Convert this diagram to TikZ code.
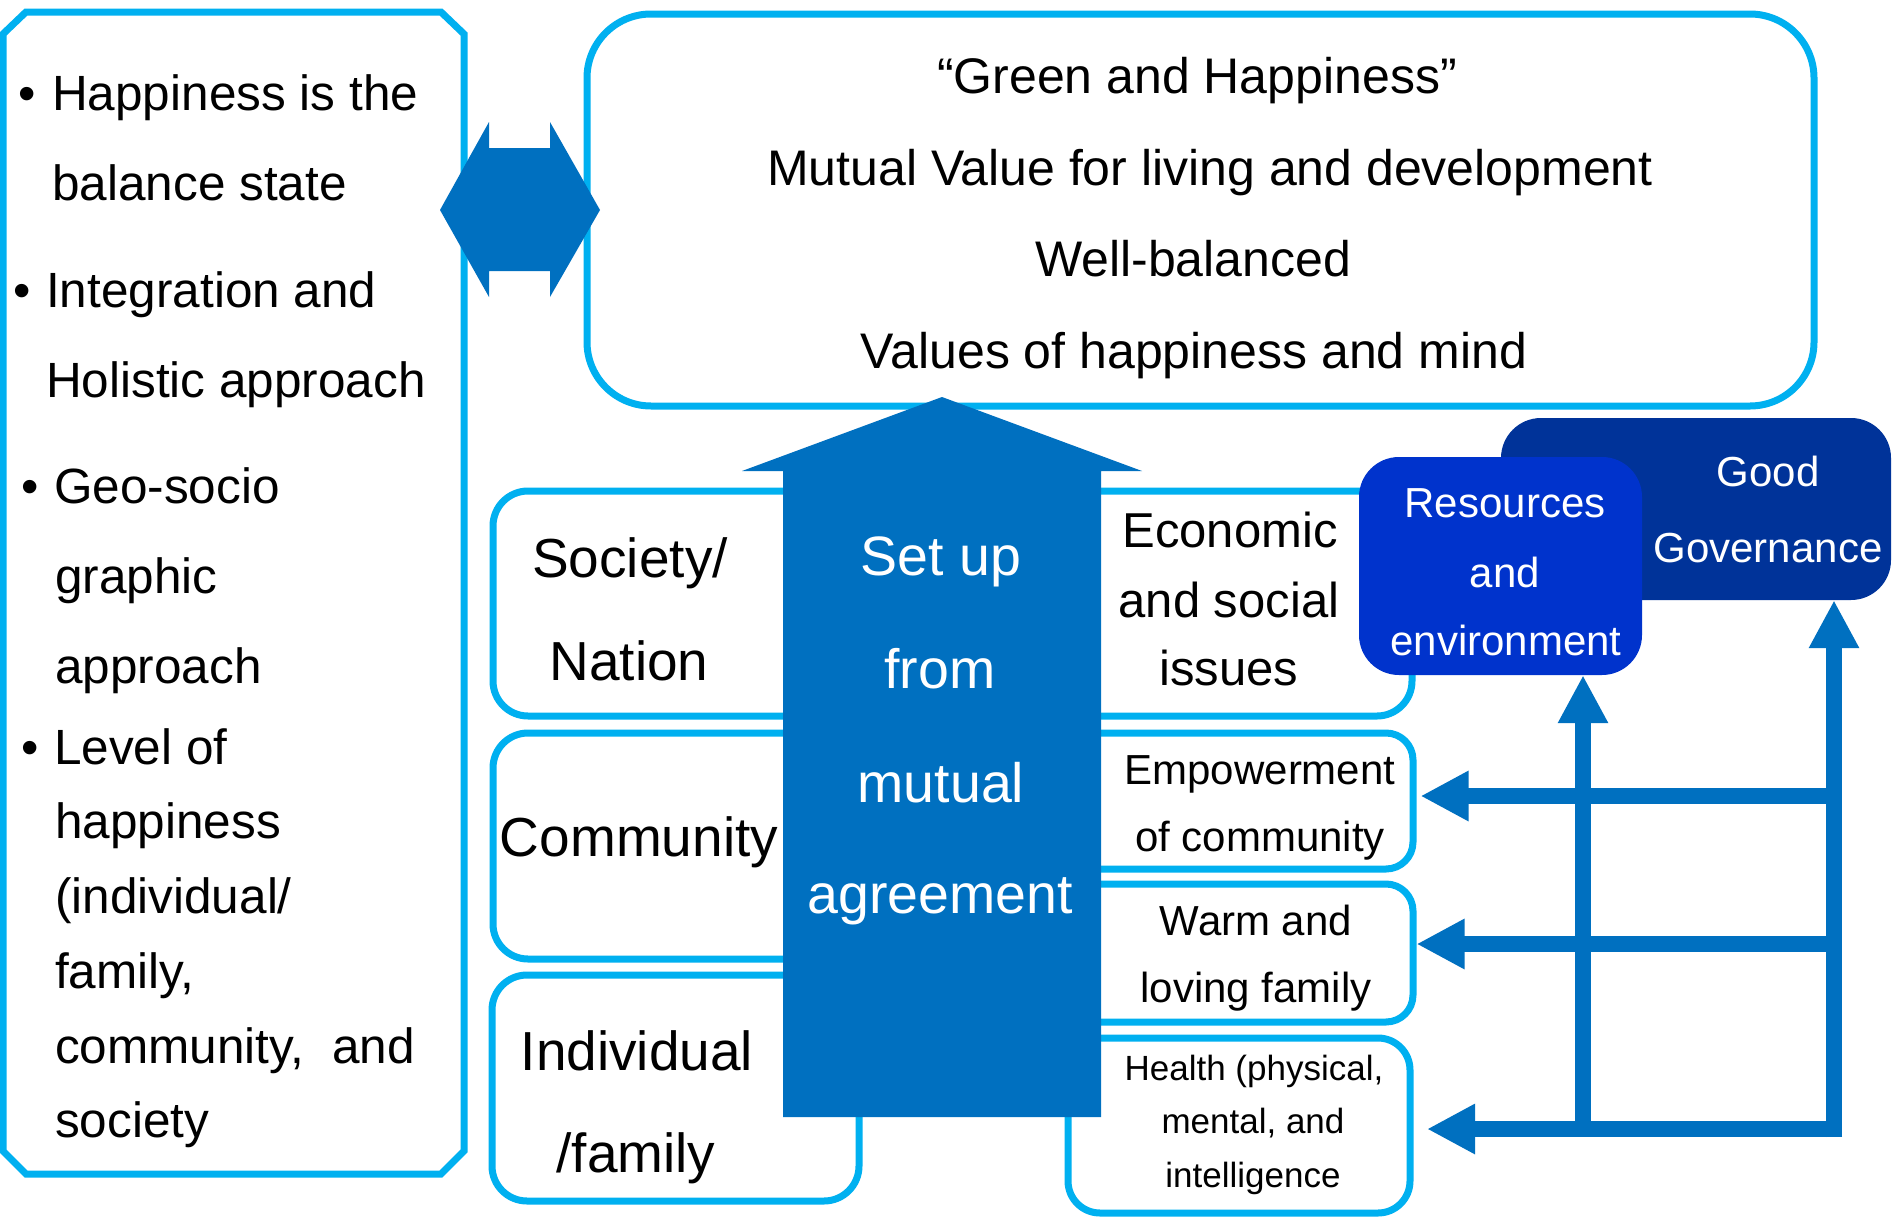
\documentclass[tikz,border=0pt]{standalone}
\usepackage{fontspec}
\setmainfont{Liberation Sans}
\usetikzlibrary{arrows.meta}
\definecolor{lblue}{HTML}{00B0F0}
\definecolor{dblue}{HTML}{0070C0}
\definecolor{rblue}{HTML}{0033CC}
\definecolor{gblue}{HTML}{003399}
\newcommand{\myfs}[1]{\fontsize{#1}{#1}\selectfont}
\begin{document}
\begin{tikzpicture}[x=1pt,y=-1pt,
  txt/.style={inner sep=0pt, anchor=base},
  ltxt/.style={inner sep=0pt, anchor=base west, font=\myfs{49.5}},
  toptxt/.style={txt, font=\myfs{50}},
  bigtxt/.style={txt, font=\myfs{55}},
  wtxt/.style={txt, font=\myfs{55.5}, text=white},
  midtxt/.style={txt, font=\myfs{49}},
  smltxt/.style={txt, font=\myfs{42}},
  hltxt/.style={txt, font=\myfs{35}},
  btxt/.style={txt, font=\myfs{42}, text=white},
  lvl/.style={draw=lblue, line width=7pt, fill=white, rounded corners=#1, inner sep=0pt},
  lvl/.default=35pt,
  blue box/.style={fill=#1, rounded corners=40pt, inner sep=0pt},
  conn/.style={draw=dblue, line width=16pt, -{Triangle[length=48pt,width=47pt]}}
]
\useasboundingbox (0,0) rectangle (1893,1218);
\fill[white] (0,0) rectangle (1893,1218);

% left chamfered box
\draw[lblue, line width=7pt, fill=white] (3,34) -- (26,12) -- (441,12) -- (464,34) -- (464,1151) -- (441,1174) -- (26,1174) -- (3,1151) -- cycle;

% top box
\node[lvl=64pt, minimum width=1227pt, minimum height=392pt] (topbox) at (1200.5,210) {};

% level boxes
\node[lvl, minimum width=919pt, minimum height=225pt] (society) at (952.5,603.5) {};
\node[lvl, minimum width=407pt, minimum height=226pt] (commL) at (696.5,846) {};
\node[lvl=27pt, minimum width=413pt, minimum height=136pt] (commR) at (1206.5,801) {};
\node[lvl=27pt, minimum width=413pt, minimum height=138pt] (warm) at (1206.5,953) {};
\node[lvl, minimum width=367pt, minimum height=226pt] (indiv) at (675.5,1088) {};
\node[lvl=32pt, minimum width=342pt, minimum height=175pt] (health) at (1239,1125.5) {};

% blue boxes
\node[blue box=gblue, minimum width=390pt, minimum height=182pt] (gov) at (1696,509) {};
\node[blue box=rblue, minimum width=283pt, minimum height=218pt] (res) at (1500.5,566) {};

% central up arrow
\fill[dblue] (783,1117) -- (783,471) -- (742,471) -- (942,397) -- (1142,471) -- (1101,471) -- (1101,1117) -- cycle;

% double arrow
\fill[dblue] (440,210) -- (489,122) -- (489,148) -- (550,148) -- (550,122) -- (600,210) -- (550,297) -- (550,271) -- (489,271) -- (489,297) -- cycle;

% connectors
\coordinate (v1b) at (1583,1129);
\coordinate (v2b) at (1834,1137);
\coordinate (hbR) at (1842,1129);
\coordinate (hTip) at (1427,1129);
\coordinate (e1) at (1834,796);
\coordinate (e2) at (1834,944);
\draw[conn] (hbR) -- (hTip);
\draw[conn] (v1b) -- (res.south -| v1b);
\draw[conn] (v2b) -- (gov.south -| v2b);
\draw[conn] (e1) -- ([xshift=4pt]commR.east |- e1);
\draw[conn] (e2) -- (warm.east |- e2);

% left texts
\node[ltxt] (b1) at (18.5,110) {•};
\node[ltxt] (l1a) at (52,110) {Happiness is the};
\node[ltxt] (l1b) at (52,200) {balance state};
\node[ltxt] (b2) at (13.5,307) {•};
\node[ltxt] (l2a) at (46,307) {Integration and};
\node[ltxt] (l2b) at (46,397) {Holistic approach};
\node[ltxt] (b3) at (21.5,503) {•};
\node[ltxt] (l3a) at (54,503) {Geo-socio};
\node[ltxt] (l3b) at (55,593) {graphic};
\node[ltxt] (l3c) at (55,683) {approach};
\node[ltxt] (b4) at (21.5,764) {•};
\node[ltxt] (l4a) at (54,764) {Level of};
\node[ltxt] (l4b) at (55,838) {happiness};
\node[ltxt] (l4c) at (55,913) {(individual/};
\node[ltxt] (l4d) at (55,988) {family,};
\node[ltxt] (l4e) at (55,1063) {community,\ \ and};
\node[ltxt] (l4f) at (55,1137) {society};

% top texts
\node[toptxt] (t1) at (1197,93) {“Green and Happiness”};
\node[toptxt] (t2) at (1210,185) {Mutual Value for living and development};
\node[toptxt] (t3) at (1193,276) {Well-balanced};
\node[toptxt] (t4) at (1194,368) {Values of happiness and mind};

% arrow texts
\node[wtxt] (a1) at (941,575) {Set up};
\node[wtxt] (a2) at (940,688) {from};
\node[wtxt] (a3) at (941,802) {mutual};
\node[wtxt] (a4) at (940,913) {agreement};

% level labels
\node[bigtxt] (s1) at (630,577) {Society/};
\node[bigtxt] (s2) at (629,680) {Nation};
\node[bigtxt] (c1) at (639,856) {Community};
\node[bigtxt] (i1) at (637,1070) {Individual};
\node[bigtxt] (i2) at (636,1172) {/family};

\node[midtxt] (r1) at (1230,547) {Economic};
\node[midtxt] (r2) at (1229,617) {and social};
\node[midtxt] (r3) at (1229,685) {issues};
\node[smltxt] (m1) at (1260,784) {Empowerment};
\node[smltxt] (m2) at (1260,851) {of community};
\node[smltxt] (w1) at (1256,935) {Warm and};
\node[smltxt] (w2) at (1256,1002) {loving family};
\node[hltxt] (h1) at (1254,1080) {Health (physical,};
\node[hltxt] (h2) at (1253,1133) {mental, and};
\node[hltxt] (h3) at (1253,1187) {intelligence};

\node[btxt] (re1) at (1505,517) {Resources};
\node[btxt] (re2) at (1505,587) {and};
\node[btxt] (re3) at (1506,655) {environment};
\node[btxt] (g1) at (1768,486) {Good};
\node[btxt] (g2) at (1768,562) {Governance};
\end{tikzpicture}
\end{document}
